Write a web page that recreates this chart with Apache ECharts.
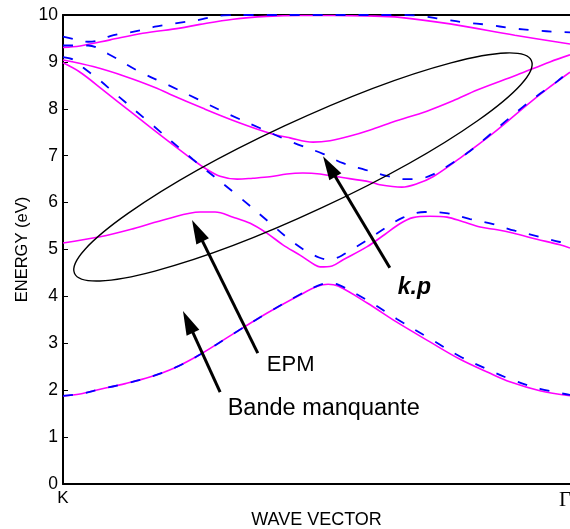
<!DOCTYPE html>
<html>
<head>
<meta charset="utf-8">
<script src="https://cdn.jsdelivr.net/npm/echarts@6/dist/echarts.min.js"></script>
<style>
  html, body { margin: 0; padding: 0; background: #fff; }
  #chart { width: 570px; height: 529px; }
</style>
</head>
<body>
<div id="chart"></div>
<script>
// Wave vector runs from K (0) to Gamma (1); energies in eV.
// Each band is a list of [wave vector, energy] pairs.

// Solid magenta bands
const epmBand1 = [[0,1.88],[0.034,1.92],[0.074,2.02],[0.124,2.14],[0.173,2.28],[0.223,2.48],[0.273,2.76],[0.339,3.2],[0.406,3.64],[0.472,4.03],[0.508,4.22],[0.528,4.26],[0.548,4.22],[0.606,3.86],[0.665,3.45],[0.731,3.03],[0.791,2.66],[0.851,2.36],[0.89,2.18],[0.95,1.99],[1.01,1.88]];
const epmBand2 = [[0,5.14],[0.074,5.27],[0.139,5.44],[0.207,5.65],[0.273,5.8],[0.303,5.8],[0.339,5.69],[0.373,5.56],[0.406,5.35],[0.438,5.1],[0.472,4.88],[0.502,4.67],[0.512,4.63],[0.536,4.65],[0.558,4.78],[0.606,5.06],[0.641,5.32],[0.671,5.55],[0.697,5.68],[0.731,5.71],[0.765,5.69],[0.797,5.59],[0.831,5.48],[0.865,5.42],[0.896,5.35],[0.944,5.22],[0.99,5.1],[1.01,5.03]];
const epmBand3 = [[0,8.98],[0.034,8.78],[0.08,8.4],[0.139,7.9],[0.207,7.33],[0.254,6.95],[0.279,6.76],[0.313,6.56],[0.347,6.5],[0.378,6.52],[0.412,6.55],[0.446,6.61],[0.478,6.63],[0.512,6.61],[0.546,6.55],[0.612,6.44],[0.631,6.38],[0.675,6.33],[0.705,6.4],[0.737,6.55],[0.791,6.95],[0.857,7.48],[0.924,8.08],[0.964,8.42],[1.01,8.78]];
const epmBand4 = [[0,9.04],[0.06,8.9],[0.127,8.68],[0.187,8.44],[0.213,8.31],[0.279,8.01],[0.347,7.72],[0.412,7.48],[0.452,7.38],[0.498,7.29],[0.532,7.32],[0.572,7.42],[0.612,7.55],[0.657,7.72],[0.725,7.95],[0.777,8.17],[0.825,8.4],[0.904,8.72],[0.97,9.0],[1.01,9.15]];
const epmBand5 = [[0,9.31],[0.034,9.34],[0.094,9.47],[0.159,9.61],[0.233,9.72],[0.273,9.8],[0.339,9.91],[0.406,9.97],[0.472,9.99],[0.538,9.99],[0.606,9.98],[0.671,9.95],[0.771,9.81],[0.9,9.57],[1.01,9.38]];

// Dashed blue bands
const kpBand1 = [[0,1.88],[0.034,1.92],[0.074,2.02],[0.124,2.14],[0.173,2.28],[0.223,2.48],[0.273,2.76],[0.339,3.2],[0.406,3.64],[0.472,4.04],[0.508,4.23],[0.528,4.28],[0.548,4.25],[0.606,3.92],[0.665,3.52],[0.731,3.1],[0.791,2.72],[0.851,2.42],[0.89,2.24],[0.95,2.03],[1.01,1.9]];
const kpBand2 = [[0,9.1],[0.02,9.05],[0.04,8.88],[0.074,8.6],[0.1,8.36],[0.173,7.7],[0.259,6.92],[0.349,6.14],[0.412,5.57],[0.448,5.24],[0.482,4.98],[0.51,4.83],[0.53,4.78],[0.55,4.84],[0.566,4.94],[0.606,5.2],[0.641,5.45],[0.677,5.68],[0.721,5.8],[0.767,5.77],[0.811,5.65],[0.857,5.54],[0.9,5.4],[0.95,5.27],[0.99,5.16],[1.01,5.13]];
const kpBand3 = [[0,9.35],[0.05,9.35],[0.09,9.17],[0.149,8.81],[0.209,8.51],[0.269,8.2],[0.333,7.87],[0.392,7.59],[0.456,7.29],[0.518,7.04],[0.558,6.84],[0.602,6.7],[0.645,6.57],[0.68,6.5],[0.71,6.51],[0.735,6.59],[0.775,6.84],[0.811,7.1],[0.845,7.4],[0.88,7.72],[0.915,8.03],[0.95,8.32],[0.984,8.58],[1.01,8.82]];
const kpBand4 = [[0,9.54],[0.02,9.49],[0.05,9.43],[0.068,9.45],[0.094,9.55],[0.114,9.6],[0.139,9.64],[0.157,9.68],[0.183,9.75],[0.203,9.79],[0.223,9.82],[0.273,9.9],[0.293,9.95],[0.319,9.99],[0.38,10],[0.68,10],[0.713,9.98],[0.757,9.91],[0.801,9.84],[0.847,9.79],[0.893,9.72],[0.94,9.67],[0.986,9.64],[1.01,9.63]];

// Axis ticks and end labels
const energyTicks = [0,1,2,3,4,5,6,7,8,9,10];
const kPoints = [0, 1];
const kNames = ['K', 'Γ'];

// Annotations: [wave vector, energy]
const ellipseCenter = [0.478, 6.76];
const arrows = [
  { from: [0.651, 4.61], to: [0.518, 6.99] },   // k.p
  { from: [0.388, 2.79], to: [0.257, 5.63] },   // EPM
  { from: [0.313, 1.96], to: [0.239, 3.69] }    // Bande manquante
];
const notes = [
  { text: 'k.p', at: [0.667, 4.18], bold: true, size: 23 },
  { text: 'EPM', at: [0.406, 2.54], bold: false, size: 22 },
  { text: 'Bande manquante', at: [0.328, 1.6], bold: false, size: 23.5 }
];

const MAGENTA = '#ff00ff';
const BLUE = '#0000ff';
const FONT = 'Liberation Sans, Arial, sans-serif';

const chart = echarts.init(document.getElementById('chart'), null, { renderer: 'canvas' });

function solid(data) {
  return { type: 'line', data: data, showSymbol: false, smooth: 0.35, silent: true,
    lineStyle: { color: MAGENTA, width: 1.6 }, z: 2 };
}
function dashed(data) {
  return { type: 'line', data: data, showSymbol: false, smooth: 0.35, silent: true,
    lineStyle: { color: BLUE, width: 1.8, type: [10, 13] }, z: 3 };
}

chart.setOption({
  animation: false,
  backgroundColor: '#ffffff',
  grid: { left: 63, right: 0, top: 15, bottom: 45, containLabel: false, outerBoundsMode: 'none' },
  xAxis: [{
    type: 'value', min: 0, max: 1.01,
    axisLine: { lineStyle: { color: '#000', width: 2 } },
    axisTick: { show: false },
    splitLine: { show: false },
    axisLabel: {
      customValues: kPoints,
      margin: 6,
      formatter: function (v) { return v === 0 ? '{k|' + kNames[0] + '}' : '{g|' + kNames[1] + '}'; },
      rich: {
        k: { fontFamily: FONT, fontSize: 17, color: '#000' },
        g: { fontFamily: 'Liberation Serif, Times New Roman, serif', fontSize: 21, color: '#000' }
      }
    },
    name: 'WAVE VECTOR', nameLocation: 'middle', nameGap: 27, nameMoveOverlap: false,
    nameTextStyle: { fontFamily: FONT, fontSize: 18, color: '#000' }
  }, {
    type: 'value', min: 0, max: 1.01, position: 'top',
    axisLine: { lineStyle: { color: '#000', width: 2 } },
    axisTick: { show: false }, axisLabel: { show: false }, splitLine: { show: false }
  }],
  yAxis: {
    type: 'value', min: energyTicks[0], max: energyTicks[energyTicks.length - 1], interval: 1,
    axisLine: { show: true, lineStyle: { color: '#000', width: 2 } },
    axisTick: { show: true, inside: true, length: 5, lineStyle: { color: '#000', width: 1 } },
    splitLine: { show: false },
    axisLabel: { fontFamily: FONT, fontSize: 17.5, color: '#000', margin: 5 },
    name: 'ENERGY (eV)', nameLocation: 'middle', nameGap: 32, nameRotate: 90, nameMoveOverlap: false,
    nameTextStyle: { fontFamily: FONT, fontSize: 16.5, color: '#000' }
  },
  series: [
    solid(epmBand1), solid(epmBand2), solid(epmBand3), solid(epmBand4), solid(epmBand5),
    dashed(kpBand1), dashed(kpBand2), dashed(kpBand3), dashed(kpBand4)
  ]
});

// Annotations placed from data coordinates
function px(p) { return chart.convertToPixel({ gridIndex: 0 }, p); }

const graphics = [];
const c = px(ellipseCenter);
graphics.push({
  type: 'ellipse', x: c[0], y: c[1], rotation: 25 * Math.PI / 180,
  shape: { cx: 0, cy: 0, rx: 252, ry: 45 },
  style: { fill: null, stroke: '#000', lineWidth: 1.4 }, z: 10
});

arrows.forEach(function (a) {
  const p0 = px(a.from), p1 = px(a.to);
  const dx = p1[0] - p0[0], dy = p1[1] - p0[1];
  const len = Math.sqrt(dx * dx + dy * dy);
  const ux = dx / len, uy = dy / len;
  const headLen = 24, headHalf = 7;
  const bx = p1[0] - ux * headLen, by = p1[1] - uy * headLen;
  graphics.push({
    type: 'line', shape: { x1: p0[0], y1: p0[1], x2: bx + ux * 2, y2: by + uy * 2 },
    style: { stroke: '#000', lineWidth: 3 }, z: 10
  });
  graphics.push({
    type: 'polygon',
    shape: { points: [[p1[0], p1[1]], [bx - uy * headHalf, by + ux * headHalf], [bx + uy * headHalf, by - ux * headHalf]] },
    style: { fill: '#000' }, z: 10
  });
});

notes.forEach(function (n) {
  const p = px(n.at);
  graphics.push({
    type: 'text', x: p[0], y: p[1], z: 11,
    style: {
      text: n.text, fill: '#000',
      font: (n.bold ? 'italic bold ' : '') + n.size + 'px ' + FONT,
      textAlign: 'left', textVerticalAlign: 'middle'
    }
  });
});

chart.setOption({ graphic: graphics });
</script>
</body>
</html>
